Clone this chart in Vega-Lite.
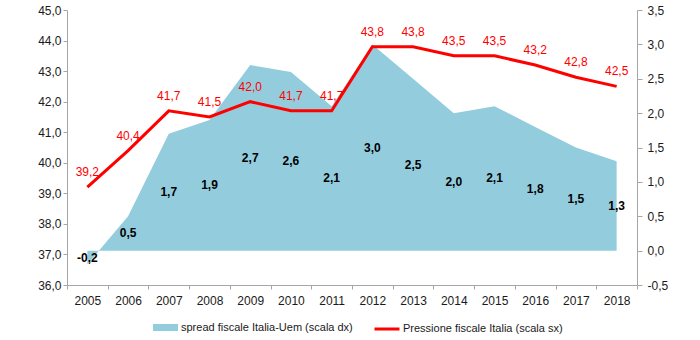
{
  "$schema": "https://vega.github.io/schema/vega-lite/v6.json",
  "width": 570,
  "height": 275,
  "autosize": "none",
  "padding": {"left": 67, "top": 10, "right": 63, "bottom": 55},
  "config": {
    "view": {"stroke": null},
    "font": "Liberation Sans",
    "locale": {"number": {"decimal": ",", "thousands": ".", "grouping": [3], "currency": ["€", ""], "minus": "-"}},
    "axis": {
      "labelFont": "Liberation Sans",
      "labelFontSize": 12,
      "labelColor": "#1a1a1a",
      "labelOverlap": false,
      "domainColor": "#a6a6a6",
      "tickColor": "#a6a6a6",
      "grid": false,
      "title": null
    },
    "legend": {"labelFont": "Liberation Sans", "labelFontSize": 11, "labelColor": "#1a1a1a", "labelLimit": 0}
  },
  "data": {
    "values": [
      {"year": "2005", "spread": -0.2, "pressione": 39.2},
      {"year": "2006", "spread": 0.5, "pressione": 40.4},
      {"year": "2007", "spread": 1.7, "pressione": 41.7},
      {"year": "2008", "spread": 1.9, "pressione": 41.5},
      {"year": "2009", "spread": 2.7, "pressione": 42.0},
      {"year": "2010", "spread": 2.6, "pressione": 41.7},
      {"year": "2011", "spread": 2.1, "pressione": 41.7},
      {"year": "2012", "spread": 3.0, "pressione": 43.8},
      {"year": "2013", "spread": 2.5, "pressione": 43.8},
      {"year": "2014", "spread": 2.0, "pressione": 43.5},
      {"year": "2015", "spread": 2.1, "pressione": 43.5},
      {"year": "2016", "spread": 1.8, "pressione": 43.2},
      {"year": "2017", "spread": 1.5, "pressione": 42.8},
      {"year": "2018", "spread": 1.3, "pressione": 42.5}
    ]
  },
  "encoding": {
    "x": {
      "field": "year",
      "type": "ordinal",
      "scale": {"type": "band", "paddingInner": 0, "paddingOuter": 0},
      "axis": {"labelAngle": 0, "tickBand": "extent", "tickSize": 4, "labelPadding": 6, "title": null}
    }
  },
  "layer": [
    {
      "mark": {"type": "area", "interpolate": "linear"},
      "encoding": {
        "y": {
          "field": "spread",
          "type": "quantitative",
          "scale": {"domain": [-0.5, 3.5], "zero": false, "nice": false},
          "axis": {"orient": "right", "values": [-0.5, 0, 0.5, 1, 1.5, 2, 2.5, 3, 3.5], "format": ".1f", "tickSize": 5, "labelPadding": 5, "labelOverlap": false}
        },
        "fill": {
          "datum": "spread fiscale Italia-Uem (scala dx)",
          "scale": {"range": ["#93CDDD"]},
          "legend": {
            "orient": "none",
            "legendX": 86,
            "legendY": 305,
            "title": null,
            "padding": 0,
            "symbolType": "M-1,-0.28H1V0.28H-1Z",
            "symbolSize": 625,
            "symbolStrokeWidth": 0,
            "labelOffset": 3
          }
        }
      }
    },
    {
      "layer": [
        {
          "mark": {"type": "line", "strokeWidth": 3},
          "encoding": {
            "y": {
              "field": "pressione",
              "type": "quantitative",
              "scale": {"domain": [36, 45], "zero": false, "nice": false},
              "axis": {"orient": "left", "values": [36, 37, 38, 39, 40, 41, 42, 43, 44, 45], "format": ".1f", "tickSize": 4, "labelPadding": 2, "labelOverlap": false}
            },
            "stroke": {
              "datum": "Pressione fiscale Italia (scala sx)",
              "scale": {"range": ["#FF0000"]},
              "legend": {
                "orient": "none",
                "legendX": 306,
                "legendY": 305,
                "title": null,
                "padding": 0,
                "symbolType": "stroke",
                "symbolSize": 625,
                "symbolStrokeWidth": 3,
                "labelOffset": 2
              }
            }
          }
        },
        {
          "mark": {"type": "text", "color": "#FF0000", "fontSize": 12, "dy": -15, "baseline": "middle"},
          "encoding": {
            "y": {
              "field": "pressione",
              "type": "quantitative",
              "axis": {"orient": "left", "values": [36, 37, 38, 39, 40, 41, 42, 43, 44, 45], "format": ".1f", "tickSize": 4, "labelPadding": 2, "labelOverlap": false}
            },
            "text": {"field": "pressione", "type": "quantitative", "format": ".1f"}
          }
        }
      ]
    },
    {
      "mark": {"type": "text", "color": "#000000", "fontSize": 12, "fontWeight": "bold", "baseline": "middle"},
      "encoding": {
        "y": {"field": "spread", "type": "quantitative", "scale": {"domain": [-1, 7], "zero": false, "nice": false}, "axis": null},
        "text": {"field": "spread", "type": "quantitative", "format": ".1f"}
      }
    }
  ],
  "resolve": {"scale": {"y": "independent"}}
}
